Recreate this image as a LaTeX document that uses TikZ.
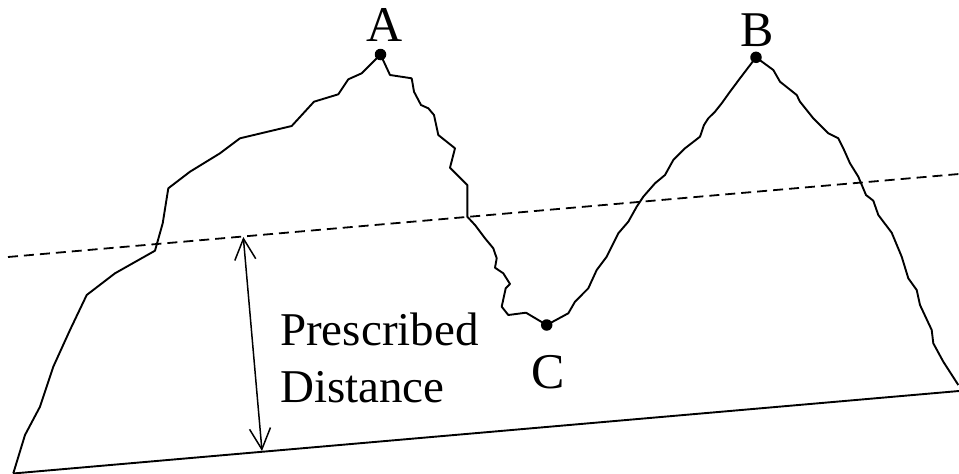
\documentclass[tikz,border=0pt]{standalone}
\usepackage{fontspec}
\setmainfont{Liberation Serif}
\usetikzlibrary{arrows.meta}
\begin{document}
\begin{tikzpicture}[x=1pt,y=-1pt,
  ridge/.style={line width=1.9pt,line join=round},
  baseline/.style={line width=1.9pt},
  level/.style={line width=1.8pt,dash pattern=on 10pt off 6pt},
  peak/.style={circle,fill=black,inner sep=0pt,minimum size=11.5pt},
  letter/.style={font=\fontsize{50}{56}\selectfont,inner sep=0pt,anchor=base},
  words/.style={font=\fontsize{47}{54}\selectfont,inner sep=0pt,anchor=base west},
  measure/.style={line width=1.5pt,{Straight Barb[length=21pt,width=21pt,line width=1.5pt]}-{Straight Barb[length=21pt,width=21pt,line width=1.5pt]}}]
\useasboundingbox (0,0) rectangle (959,474);
% ground and level lines
\coordinate (g1) at (13,473.5);
\coordinate (g2) at (959,391);
\coordinate (d1) at (8,257);
\coordinate (d2) at (959,174);
\draw[baseline] (g1) -- (g2);
\draw[level] (d1) -- (d2);
% profile
\draw[ridge] (13.3,473.3) -- (25,435) -- (40,406.7) -- (53.3,366.7) -- (70,330) -- (86.7,295)
 -- (115,273.3) -- (155,250.7) -- (162.7,223.3) -- (168.3,188.3) -- (190,171.7) -- (220,153.3)
 -- (240,138.3) -- (291.7,126) -- (314,101.7) -- (338.3,94.3) -- (348.3,79.3) -- (361.7,73.3)
 -- (380.5,54.5)
 -- (390,75) -- (411.7,78.3) -- (414,91.7) -- (421,105) -- (428.3,108.3) -- (434,115)
 -- (438.3,135) -- (455,148.3) -- (450,167.7) -- (467.3,185) -- (467.3,216.7) -- (475,225)
 -- (485,238.3) -- (493.3,248.3) -- (496.7,258.3) -- (495,267.7) -- (503.3,273.3) -- (510,284)
 -- (505.7,288.3) -- (501.7,306.7) -- (508.3,315) -- (526,312.7) -- (546.7,325)
 -- (568.3,313.3) -- (575,301.7) -- (588.3,288.3) -- (596.7,270) -- (606.7,256.7) -- (618.3,233.3)
 -- (628.3,221.7) -- (636.7,206.7) -- (643.3,196.7) -- (655,183.3) -- (665,175) -- (673.3,160)
 -- (685,148.3) -- (700,136.7) -- (704,125) -- (708.3,118.3) -- (715,111.7) -- (721.7,103.3)
 -- (730,91.7) -- (740,78.3) -- (756,57.3)
 -- (773.3,70) -- (780,81.7) -- (796.7,95) -- (800,101.7) -- (813.3,118.3) -- (828.3,133.3)
 -- (838.3,138.3) -- (843.3,148.3) -- (850,163.3) -- (858.3,176.7) -- (866,195) -- (873.3,200.7)
 -- (878.3,215) -- (891.7,232.7) -- (901.7,256.7) -- (908.3,278.3) -- (916.7,290) -- (920,305)
 -- (931.7,330) -- (933.3,343.3) -- (943.3,361.7) -- (958.3,385);
% peak / valley markers
\node[peak] (pA) at (380.5,54.5) {};
\node[peak] (pB) at (756,57.3) {};
\node[peak] (pC) at (546.7,325) {};
\node[letter] (lA) at (385,41.7) {A};
\node[letter] (lB) at (756.7,46.7) {B};
\node[letter] (lC) at (548.5,388.3) {C};
% prescribed distance
\coordinate (mtop) at (243.3,237);
\coordinate (mbot) at (262,451);
\draw[measure] (mtop) -- (mbot);
\node[words] (t1) at (280,345) {Prescribed};
\node[words] (t2) at (280,402) {Distance};
\end{tikzpicture}
\end{document}
